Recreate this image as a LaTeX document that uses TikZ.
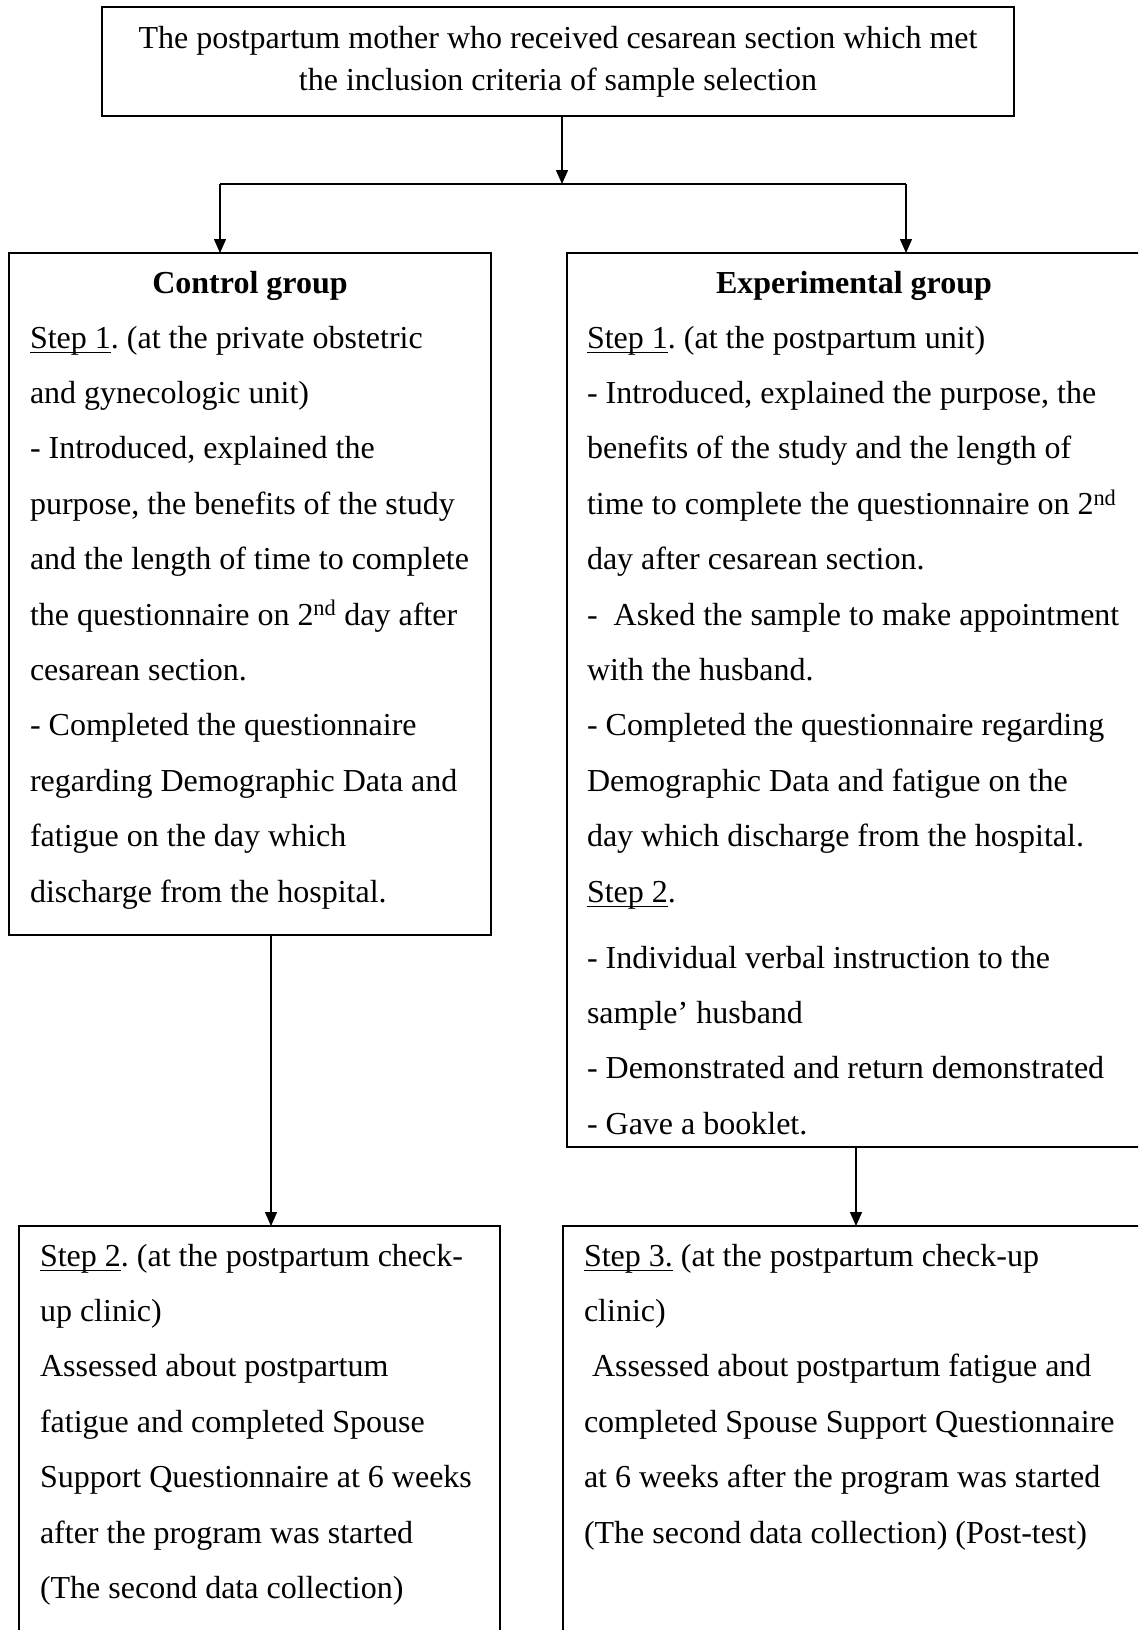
\documentclass[tikz,border=0pt]{standalone}
\usepackage{fontspec}
\setmainfont{Liberation Serif}
\usetikzlibrary{arrows.meta}
\newcommand\txtfont[2]{\fontsize{#1}{#2}\selectfont\frenchspacing\spaceskip=0.25em\relax}
\newcommand\uln[1]{\leavevmode\setbox0\hbox{#1}\rlap{\rule[-5.2pt]{\wd0}{1.6pt}}\box0\relax}
\begin{document}
\begin{tikzpicture}[x=1pt,y=-1pt,
  box/.style={draw, line width=1.8pt, rectangle, inner sep=0pt, outer sep=0pt, anchor=north west},
  arr/.style={line width=1.3pt, -{Triangle[length=14pt,width=12pt]}},
  conn/.style={line width=1.3pt},
  body/.style={inner sep=0pt, outer sep=0pt, anchor=base west, align=flush left, text width=#1, font=\txtfont{32}{55.4}},
  body/.default=600pt,
  head/.style={inner sep=0pt, anchor=base, font=\txtfont{32}{38}\bfseries},
  toptext/.style={inner sep=0pt, anchor=base, align=flush center, text width=900pt, font=\txtfont{32}{43}}
]
\useasboundingbox (0,0) rectangle (1138,1630);
\clip (0,0) rectangle (1138,1630);
\fill[white] (0,0) rectangle (1138,1630);

% boxes
\node[box, minimum width=912pt, minimum height=109pt] (top) at (102,7) {};
\node[box, minimum width=482pt, minimum height=682pt] (ctrl) at (9,253) {};
\node[box, minimum width=600pt, minimum height=894pt] (exp) at (567,253) {};
\node[box, minimum width=481pt, minimum height=430pt] (bl) at (19,1226) {};
\node[box, minimum width=600pt, minimum height=430pt] (br) at (563,1226) {};

% texts
\node[toptext] (toptxt) at (558,48) {The postpartum mother who received cesarean section which met\\ the inclusion criteria of sample selection};

\node[head] (ctrlhead) at (250,293) {Control group};
\node[head] (exphead) at (854,293) {Experimental group};

\node[body] (ctrltxt) at (30,348) {\uln{Step 1}. (at the private obstetric\\
and gynecologic unit)\\
- Introduced, explained the\\
purpose, the benefits of the study\\
and the length of time to complete\\
the questionnaire on 2\textsuperscript{nd} day after\\
cesarean section.\\
- Completed the questionnaire\\
regarding Demographic Data and\\
fatigue on the day which\\
discharge from the hospital.};

\node[body] (exptxt) at (587,348) {\uln{Step 1}. (at the postpartum unit)\\
- Introduced, explained the purpose, the\\
benefits of the study and the length of\\
time to complete the questionnaire on 2\textsuperscript{nd}\\
day after cesarean section.\\
-~ Asked the sample to make appointment\\
with the husband.\\
- Completed the questionnaire regarding\\
Demographic Data and fatigue on the\\
day which discharge from the hospital.\\
\uln{Step 2}.\\[10.6pt]
- Individual verbal instruction to the\\
sample’ husband\\
- Demonstrated and return demonstrated\\
- Gave a booklet.};

\node[body] (bltxt) at (40,1266) {\uln{Step 2}. (at the postpartum check-\\
up clinic)\\
Assessed about postpartum\\
fatigue and completed Spouse\\
Support Questionnaire at 6 weeks\\
after the program was started\\
(The second data collection)};

\node[body] (brtxt) at (584,1266) {\uln{Step 3.} (at the postpartum check-up\\
clinic)\\
~Assessed about postpartum fatigue and\\
completed Spouse Support Questionnaire\\
at 6 weeks after the program was started\\
(The second data collection) (Post-test)};

% connectors
\coordinate (j) at (562,184);
\coordinate (jl) at (220,184);
\coordinate (jr) at (906,184);
\coordinate (cl) at (271,0);
\coordinate (cr) at (856,0);
\draw[arr] (top.south -| j) -- (j);
\draw[conn] (jl) -- (jr);
\draw[arr] (jl) -- (jl |- ctrl.north);
\draw[arr] (jr) -- (jr |- exp.north);
\draw[arr] (cl |- ctrl.south) -- (cl |- bl.north);
\draw[arr] (cr |- exp.south) -- (cr |- br.north);
\end{tikzpicture}
\end{document}
